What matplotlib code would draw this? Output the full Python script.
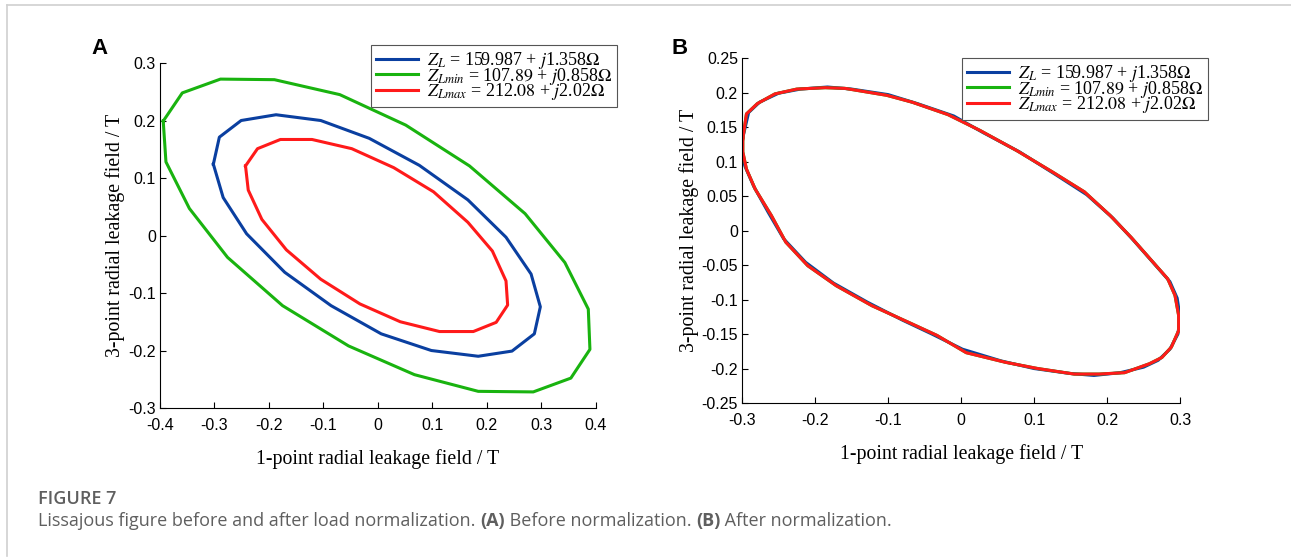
import numpy as np
import matplotlib
matplotlib.use("Agg")
import matplotlib.pyplot as plt
from matplotlib.lines import Line2D

plt.rcParams["font.family"] = "Liberation Sans"
plt.rcParams["axes.unicode_minus"] = False
plt.rcParams["mathtext.fontset"] = "stix"

# ---- panel A: before normalization (closed polygons) ----
a_green_x = [-0.394, -0.359, -0.289, -0.190, -0.070, 0.051, 0.168, 0.270, 0.343, 0.386,
             0.389, 0.354, 0.285, 0.184, 0.067, -0.054, -0.175, -0.276, -0.346, -0.389]
a_green_y = [0.199, 0.248, 0.272, 0.271, 0.245, 0.192, 0.121, 0.038, -0.047, -0.128,
             -0.198, -0.248, -0.272, -0.271, -0.242, -0.192, -0.122, -0.038, 0.047, 0.128]

a_blue_x = [-0.302, -0.291, -0.251, -0.187, -0.105, -0.016, 0.076, 0.165, 0.235, 0.281,
            0.298, 0.287, 0.246, 0.184, 0.098, 0.006, -0.086, -0.171, -0.241, -0.284]
a_blue_y = [0.124, 0.171, 0.200, 0.210, 0.200, 0.169, 0.122, 0.062, -0.003, -0.067,
            -0.124, -0.171, -0.201, -0.210, -0.200, -0.171, -0.122, -0.064, 0.003, 0.066]

a_red_x = [-0.243, -0.221, -0.179, -0.121, -0.048, 0.029, 0.102, 0.165, 0.210, 0.235,
           0.238, 0.217, 0.175, 0.113, 0.041, -0.033, -0.105, -0.168, -0.213, -0.238]
a_red_y = [0.121, 0.151, 0.167, 0.167, 0.151, 0.118, 0.076, 0.023, -0.027, -0.079,
           -0.121, -0.151, -0.167, -0.167, -0.150, -0.119, -0.076, -0.025, 0.028, 0.079]

# ---- panel B: after normalization ----
b_red_x = [-0.299, -0.294, -0.279, -0.255, -0.225, -0.186, -0.159, -0.102, -0.067, -0.018,
           0.026, 0.076, 0.125, 0.169, 0.204, 0.233, 0.263, 0.283, 0.293, 0.298,
           0.298, 0.288, 0.275, 0.258, 0.224, 0.189, 0.155, 0.105, 0.061, 0.007,
           -0.033, -0.072, -0.122, -0.171, -0.210, -0.240, -0.260, -0.282, -0.294, -0.299]
b_red_y = [0.133, 0.169, 0.184, 0.198, 0.205, 0.207, 0.206, 0.196, 0.186, 0.168,
           0.145, 0.116, 0.085, 0.056, 0.022, -0.010, -0.046, -0.070, -0.094, -0.123,
           -0.145, -0.169, -0.184, -0.193, -0.206, -0.208, -0.208, -0.200, -0.191, -0.177,
           -0.152, -0.133, -0.109, -0.080, -0.051, -0.017, 0.022, 0.060, 0.089, 0.114]

b_blue_x = [-0.300, -0.291, -0.276, -0.250, -0.220, -0.183, -0.150, -0.100, -0.060, -0.010,
            0.030, 0.080, 0.128, 0.172, 0.208, 0.236, 0.266, 0.286, 0.296, 0.300,
            0.297, 0.286, 0.270, 0.250, 0.218, 0.182, 0.148, 0.100, 0.055, 0.002,
            -0.040, -0.080, -0.128, -0.175, -0.213, -0.243, -0.264, -0.284, -0.296, -0.301]
b_blue_y = [0.130, 0.171, 0.186, 0.199, 0.205, 0.208, 0.205, 0.197, 0.184, 0.166,
            0.142, 0.114, 0.082, 0.052, 0.018, -0.014, -0.050, -0.074, -0.098, -0.126,
            -0.150, -0.172, -0.188, -0.198, -0.206, -0.210, -0.207, -0.200, -0.189, -0.172,
            -0.150, -0.130, -0.104, -0.076, -0.046, -0.012, 0.026, 0.064, 0.093, 0.112]

b_green_x = b_red_x
b_green_y = b_red_y

legend_labels = [r"$Z_L$ = 159.987 + $j$1.358$\Omega$",
                 r"$Z_{Lmin}$ = 107.$\it{89}$ + $j$0.858$\Omega$",
                 r"$Z_{Lmax}$ = 212.$\it{08}$ + $j$2.02$\Omega$"]
colors = ["#0a3fa0", "#19b30f", "#ff1a1a"]

a_xticks = [-0.4, -0.3, -0.2, -0.1, 0, 0.1, 0.2, 0.3, 0.4]
a_yticks = [-0.3, -0.2, -0.1, 0, 0.1, 0.2, 0.3]
b_xticks = [-0.3, -0.2, -0.1, 0, 0.1, 0.2, 0.3]
b_yticks = [-0.25, -0.2, -0.15, -0.1, -0.05, 0, 0.05, 0.1, 0.15, 0.2, 0.25]


def closed(x, y):
    return list(x) + [x[0]], list(y) + [y[0]]


def fmt(v):
    if v == 0:
        return "0"
    return ("%g" % v)


def style_axes(ax, xticks, yticks):
    ax.spines["top"].set_visible(False)
    ax.spines["right"].set_visible(False)
    ax.set_xticks(xticks)
    ax.set_yticks(yticks)
    ax.set_xticklabels([fmt(v) for v in xticks])
    ax.set_yticklabels([fmt(v) for v in yticks])
    ax.tick_params(direction="in", length=4, width=0.8, labelsize=11.5, pad=3)
    ax.tick_params(axis="x", pad=7)
    ax.set_xlabel("1-point radial leakage field / T", family="Liberation Serif",
                  fontsize=14.3, labelpad=12)
    ax.set_ylabel("3-point radial leakage field / T", family="Liberation Serif",
                  fontsize=14.3, labelpad=2)


fig = plt.figure(figsize=(12.91, 5.59), dpi=100)

# panel A
ax1 = fig.add_axes([0.1239, 0.2701, 0.3377, 0.6172])
for xs, ys, c in [(a_blue_x, a_blue_y, colors[0]),
                  (a_green_x, a_green_y, colors[1]),
                  (a_red_x, a_red_y, colors[2])]:
    px, py = closed(xs, ys)
    ax1.plot(px, py, color=c, lw=2.2)
ax1.set_xlim(-0.4, 0.4)
ax1.set_ylim(-0.3, 0.3)
style_axes(ax1, a_xticks, a_yticks)

# panel B
ax2 = fig.add_axes([0.5748, 0.2790, 0.3393, 0.6172])
for xs, ys, c in [(b_blue_x, b_blue_y, colors[0]),
                  (b_green_x, b_green_y, colors[1]),
                  (b_red_x, b_red_y, colors[2])]:
    px, py = closed(xs, ys)
    ax2.plot(px, py, color=c, lw=2.2)
ax2.set_xlim(-0.3, 0.3)
ax2.set_ylim(-0.25, 0.25)
style_axes(ax2, b_xticks, b_yticks)

handles = [Line2D([], [], color=c, lw=2.2) for c in colors]
for anchor in [(617 / 1291, 1 - 45 / 559), (1208 / 1291, 1 - 58 / 559)]:
    leg = fig.legend(handles, legend_labels, loc="upper right",
                     bbox_to_anchor=anchor, bbox_transform=fig.transFigure,
                     prop={"family": "Liberation Serif", "size": 13},
                     frameon=True, fancybox=False, edgecolor="#555555",
                     framealpha=1, handlelength=2.3, handletextpad=0.5,
                     labelspacing=-0.32, borderpad=0.3, borderaxespad=0)
    leg.get_frame().set_linewidth(0.8)

fig.text(100 / 1291, 1 - 48 / 559, "A", fontsize=16, fontweight="bold",
         ha="center", va="center", family="Liberation Sans")
fig.text(680 / 1291, 1 - 48 / 559, "B", fontsize=16, fontweight="bold",
         ha="center", va="center", family="Liberation Sans")

# caption
fig.text(38 / 1291, 1 - 499 / 559, "FIGURE 7", fontsize=13, fontweight="semibold",
         color="#5f5f5f", va="center", family="Open Sans")
cap_parts = [("Lissajous figure before and after load normalization. ", "normal"),
             ("(A)", "bold"), (" Before normalization. ", "normal"),
             ("(B)", "bold"), (" After normalization.", "normal")]
renderer = fig.canvas.get_renderer()
xpos = 38 / 1291
for txt, w in cap_parts:
    t = fig.text(xpos, 1 - 521 / 559, txt, fontsize=13, fontweight=w,
                 color="#5f5f5f", va="center", family="Open Sans")
    bb = t.get_window_extent(renderer=renderer)
    xpos += bb.width / fig.bbox.width

# page border lines
fig.add_artist(Line2D([7 / 1291, 1], [1 - 5 / 559, 1 - 5 / 559], color="#d0d0d0", lw=1.2))
fig.add_artist(Line2D([7 / 1291, 7 / 1291], [1 - 5 / 559, 1 - 556 / 559], color="#d0d0d0", lw=1.2))

fig.savefig("out.png", dpi=100)
